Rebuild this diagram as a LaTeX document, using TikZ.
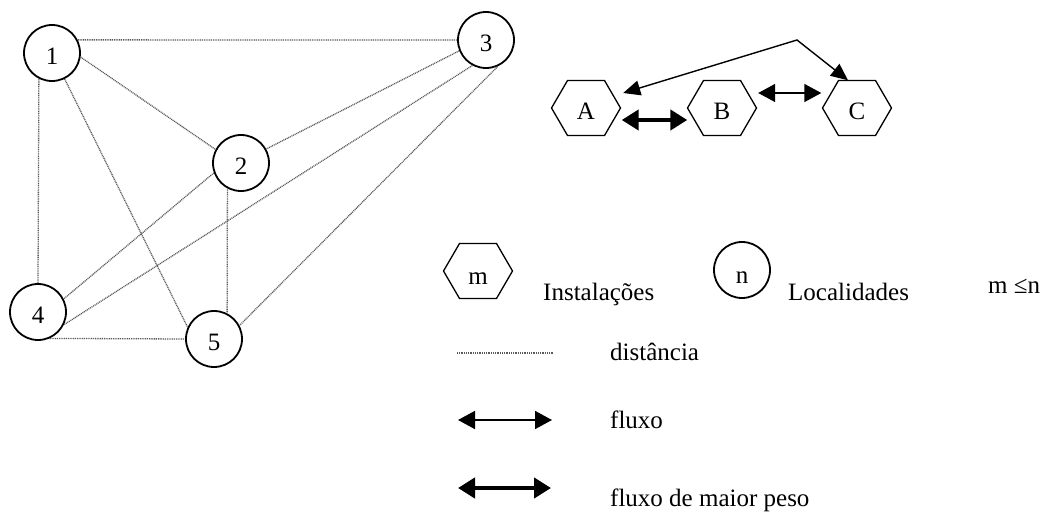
\documentclass[tikz,border=0pt]{standalone}
\usepackage{fontspec}
\setmainfont{Liberation Serif}
\usetikzlibrary{arrows.meta}
\newcommand\drawhex[1]{\draw[hexline] ([xshift=-34.5pt]#1.center) -- ++(16pt,27.5pt) -- ++(37pt,0pt) -- ++(16pt,-27.5pt) -- ++(-16pt,-27.5pt) -- ++(-37pt,0pt) -- cycle;}
\begin{document}
\begin{tikzpicture}[x=1pt,y=-1pt,
  txt/.style={font=\fontsize{25}{30}\selectfont},
  loc/.style={txt, circle, draw, line width=1.8pt, minimum size=56pt, inner sep=0pt, text height=23pt, text depth=0pt},
  hexnode/.style={txt, minimum width=69pt, minimum height=55pt, inner sep=0pt, text height=24pt, text depth=0pt},
  hexline/.style={line width=1.3pt, line join=miter},
  dist/.style={black!65, line width=1.3pt, dash pattern=on 1pt off 0.8pt},
  flow/.style={line width=1.6pt, {Triangle[length=17pt,width=18pt]}-{Triangle[length=17pt,width=18pt]}},
  bigflow/.style={line width=4.5pt, {Triangle[length=17pt,width=20pt]}-{Triangle[length=17pt,width=20pt]}},
  bentflow/.style={line width=1.4pt, line join=miter, {Triangle[length=17pt,width=15pt]}-{Triangle[length=17pt,width=15pt]}},
  lbl/.style={txt, anchor=base west, inner sep=0pt}
]
\useasboundingbox (0,0) rectangle (1051,513);

% localities graph
\node[loc] (n1) at (52,53) {1};
\node[loc] (n3) at (486,40) {3};
\node[loc] (n2) at (241,163) {2};
\node[loc] (n4) at (38,312) {4};
\node[loc] (n5) at (214,339) {5};

\draw[dist] (n1.27) -- (n3.180);
\draw[dist] (n1.-8) -- (n2.152);
\draw[dist] (n1.243) -- (n4.90);
\draw[dist] (n1.-64) -- (n5.156);
\draw[dist] (n3.202) -- (n2.29);
\draw[dist] (n3.242) -- (n4.-26);
\draw[dist] (n3.-66) -- (n5.28);
\draw[dist] (n2.200) -- (n4.27);
\draw[dist] (n2.242) -- (n5.63);
\draw[dist] (n4.-66) -- (n5.180);

% facilities
\node[hexnode] (A) at (586,108) {A};
\node[hexnode] (B) at (722,108) {B};
\node[hexnode] (C) at (857,108) {C};
\drawhex{A}
\drawhex{B}
\drawhex{C}

\coordinate (bend) at (797,40);
\draw[bigflow] ([xshift=1pt,yshift=-12pt]A.east) -- ([yshift=-12pt]B.west);
\draw[flow] ([xshift=1.5pt,yshift=15pt]B.east) -- ([xshift=-1pt,yshift=15pt]C.west);
\draw[bentflow] ([xshift=2.5pt,yshift=15pt]A.east) -- (bend) -- ([xshift=-9pt]C.north);

% legend
\node[hexnode, text height=27pt] (m) at (478,271) {m};
\drawhex{m}
\node[lbl] (inst) at (543,300) {Instalações};
\node[loc, text height=27pt] (n) at (742,270) {n};
\node[lbl] (locs) at (788,300) {Localidades};
\node[lbl] (rel) at (988,293) {m ≤n};

\coordinate (d1) at (457,353);
\coordinate (d2) at (553,353);
\draw[dist] (d1) -- (d2);
\node[lbl] (ldist) at (610,360) {distância};

\coordinate (f1) at (458,420);
\coordinate (f2) at (552,420);
\draw[flow] (f1) -- (f2);
\node[lbl] (lflow) at (610,428) {fluxo};

\coordinate (g1) at (458,488);
\coordinate (g2) at (551,488);
\draw[bigflow] (g1) -- (g2);
\node[lbl] (lbig) at (610,506) {fluxo de maior peso};
\end{tikzpicture}
\end{document}
